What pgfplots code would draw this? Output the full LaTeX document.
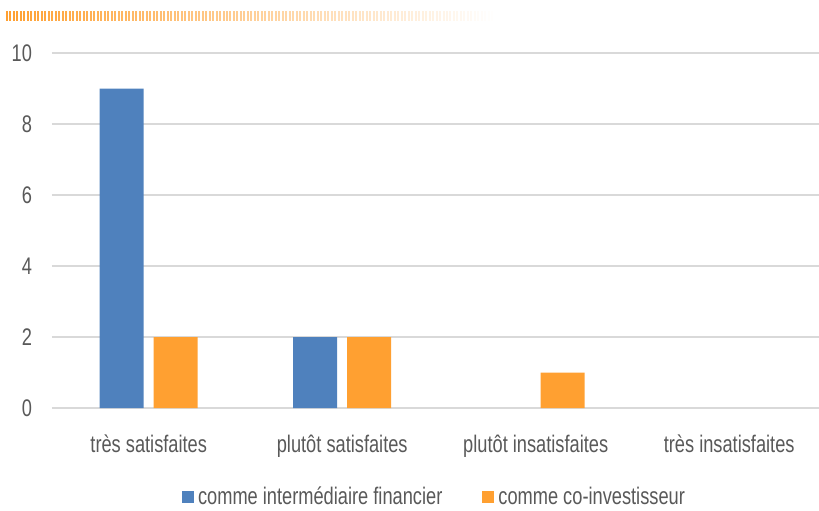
\documentclass[border=0pt]{standalone}
\usepackage{fontspec}
\setmainfont{Liberation Sans}[FakeStretch=0.76]
\usepackage{pgfplots}
\pgfplotsset{compat=1.18}
\definecolor{barblue}{HTML}{4F81BD}
\definecolor{barorange}{HTML}{FFA031}
\definecolor{gridgray}{HTML}{D9D9D9}
\definecolor{txtgray}{HTML}{595959}
\begin{document}
\begin{tikzpicture}
\begin{axis}[
    at={(0,0)}, anchor=south west,
    scale only axis,
    width=383.5pt, height=177.5pt,
    xmin=-0.5, xmax=3.464,
    ymin=0, ymax=10,
    ybar=5pt, bar width=22pt,
    xtick={0,1,2,3},
    xticklabels={très satisfaites, plutôt satisfaites, plutôt insatisfaites, très insatisfaites},
    ytick={0,2,...,10},
    ymajorgrids,
    grid style={gridgray, line width=0.75pt},
    axis x line*=bottom, axis y line*=left,
    y axis line style={draw=none},
    x axis line style={gridgray, line width=0.75pt, -},
    major tick length=0pt,
    tick label style={font=\fontsize{12}{14}\selectfont, text=txtgray},
    /pgf/number format/assume math mode=true,
    xticklabel style={yshift=-10pt},
    yticklabel style={xshift=-6.5pt},
    legend style={at={(0.5,-0.2507)}, anchor=center, draw=none,
        font=\fontsize{12}{14}\selectfont, text=txtgray,
        /tikz/every even column/.append style={column sep=18pt}},
    legend columns=2,
    legend image code/.code={\fill[#1] (0pt,-3pt) rectangle (6pt,3pt);},
]
% zero-valued bars are left out (they draw nothing in the reference)
\addplot[fill=barblue, draw=none] coordinates {(0,9) (1,2)};
\addlegendentry{comme intermédiaire financier}
\addplot[fill=barorange, draw=none] coordinates {(0,2) (1,2) (2,1)};
\addlegendentry{comme co-investisseur}
\end{axis}
\foreach \i in {0,...,139} {
    \pgfmathsetmacro\op{1-\i/140}
    \fill[barorange, opacity=\op] (-23pt+\i*1.746pt, 198.5pt) rectangle ++(1pt,-5pt);
}
\pgfresetboundingbox
\path (-26pt,-51pt) rectangle (383.5pt,204pt);
\end{tikzpicture}
\end{document}
